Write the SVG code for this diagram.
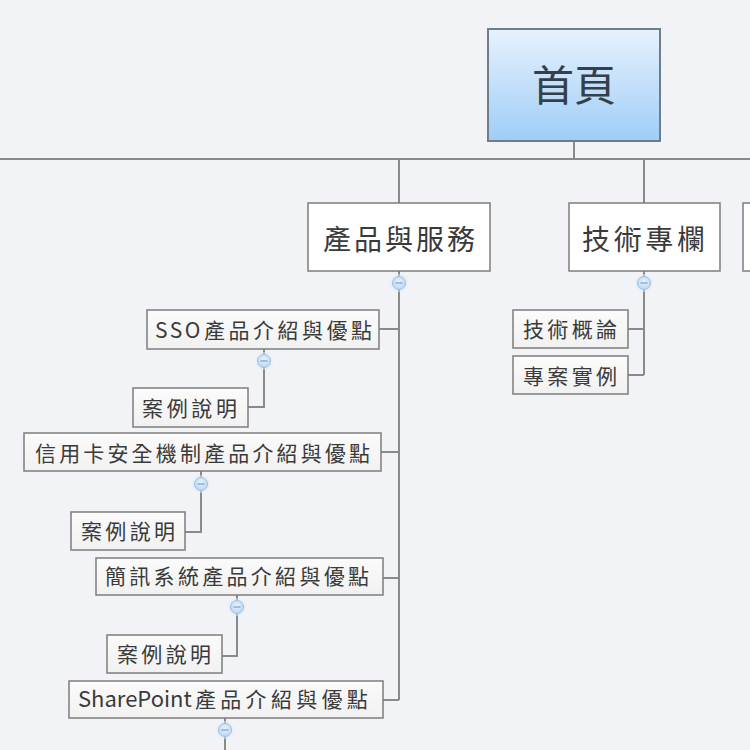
<svg xmlns="http://www.w3.org/2000/svg" width="750" height="750" viewBox="0 0 750 750">
<defs>
<linearGradient id="rootGrad" x1="0" y1="0" x2="0" y2="1">
<stop offset="0" stop-color="#e6f2fd"/>
<stop offset="1" stop-color="#9fcdf7"/>
</linearGradient>
<linearGradient id="subGrad" x1="0" y1="0" x2="0" y2="1">
<stop offset="0" stop-color="#fbfbfb"/>
<stop offset="1" stop-color="#f1f1f1"/>
</linearGradient>
<radialGradient id="btnGrad" cx="0.5" cy="0.4" r="0.6">
<stop offset="0" stop-color="#e8f2fc"/>
<stop offset="1" stop-color="#b9d6f2"/>
</radialGradient>
<g id="btn">
<circle r="9" fill="#dcebfa" opacity="0.5"/>
<circle r="6.5" fill="url(#btnGrad)" stroke="#9dbfe2" stroke-width="1"/>
<line x1="-3.5" y1="0" x2="3.5" y2="0" stroke="#7b9dc4" stroke-width="1.2"/>
</g>
</defs>
<style>
.conn{fill:none;stroke:#8a8a8a;stroke-width:2}
.root{fill:url(#rootGrad);stroke:#6f7d89;stroke-width:2}
.main{fill:#ffffff;stroke:#7d7d7d;stroke-width:1.5}
.sub{fill:url(#subGrad);stroke:#7d7d7d;stroke-width:1.5}
.tr{font-family:"Noto Sans CJK TC","Noto Sans",sans-serif;font-size:42px;fill:#343f49;text-anchor:middle}
.tm{font-family:"Noto Sans CJK TC","Noto Sans",sans-serif;font-size:28px;fill:#3a3a3a}
.ts{font-family:"Noto Sans CJK TC","Noto Sans",sans-serif;font-size:21px;fill:#3a3a3a}
</style>
<rect x="0" y="0" width="750" height="750" fill="#f2f3f7"/>

<g id="connectors">
<path class="conn" d="M574 142 V159 M0 159 H750 M399 159 V203 M644 159 V203"/>
<path class="conn" d="M399 271 V700 M379 329 H399 M381 452 H399 M383 578 H399 M383 700 H399"/>
<path class="conn" d="M644 271 V375 M628 329 H644 M628 375 H644"/>
<path class="conn" d="M264 349 V407 H248"/>
<path class="conn" d="M201 471 V532 H185"/>
<path class="conn" d="M237 594 V656 H222"/>
<path class="conn" d="M225 718 V750"/>
</g>

<g id="node-root">
<rect class="root" x="488" y="29" width="172" height="112"/>
<text class="tr" x="574" y="101">首頁</text>
</g>

<g id="node-products">
<rect class="main" x="308" y="203" width="182" height="68"/>
<text class="tm" x="323" y="250" textLength="152" lengthAdjust="spacing">產品與服務</text>
<use href="#btn" x="399" y="283"/>
</g>

<g id="node-tech">
<rect class="main" x="569" y="203" width="151" height="68"/>
<text class="tm" x="582" y="250" textLength="123" lengthAdjust="spacing">技術專欄</text>
<use href="#btn" x="644" y="283"/>
</g>

<g id="node-third">
<rect class="main" x="743" y="203" width="40" height="68"/>
</g>

<g id="node-tech-intro">
<rect class="sub" x="513" y="310" width="115" height="38"/>
<text class="ts" x="523" y="337" textLength="94" lengthAdjust="spacing">技術概論</text>
</g>

<g id="node-tech-case">
<rect class="sub" x="513" y="356" width="115" height="38"/>
<text class="ts" x="523" y="384" textLength="94" lengthAdjust="spacing">專案實例</text>
</g>

<g id="node-sso">
<rect class="sub" x="147" y="310" width="232" height="39"/>
<text class="ts" y="338"><tspan x="155" letter-spacing="2.5">SSO</tspan><tspan x="204" letter-spacing="3.5">產品介紹與優點</tspan></text>
<use href="#btn" x="264" y="361"/>
</g>

<g id="node-sso-case">
<rect class="sub" x="133" y="388" width="115" height="39"/>
<text class="ts" x="142" y="416" textLength="95" lengthAdjust="spacing">案例說明</text>
</g>

<g id="node-card">
<rect class="sub" x="24" y="433" width="357" height="38"/>
<text class="ts" x="35" y="461" textLength="335" lengthAdjust="spacing">信用卡安全機制產品介紹與優點</text>
<use href="#btn" x="201" y="484"/>
</g>

<g id="node-card-case">
<rect class="sub" x="71" y="512" width="114" height="38"/>
<text class="ts" x="81" y="539" textLength="94" lengthAdjust="spacing">案例說明</text>
</g>

<g id="node-sms">
<rect class="sub" x="96" y="558" width="287" height="37"/>
<text class="ts" x="105" y="584" textLength="264" lengthAdjust="spacing">簡訊系統產品介紹與優點</text>
<use href="#btn" x="237" y="607"/>
</g>

<g id="node-sms-case">
<rect class="sub" x="107" y="635" width="115" height="38"/>
<text class="ts" x="117" y="662" textLength="94" lengthAdjust="spacing">案例說明</text>
</g>

<g id="node-sharepoint">
<rect class="sub" x="69" y="681" width="314" height="37"/>
<text class="ts" y="707"><tspan x="78" font-size="22">SharePoint</tspan><tspan x="195" letter-spacing="4.3">產品介紹與優點</tspan></text>
<use href="#btn" x="225" y="730"/>
</g>
</svg>
